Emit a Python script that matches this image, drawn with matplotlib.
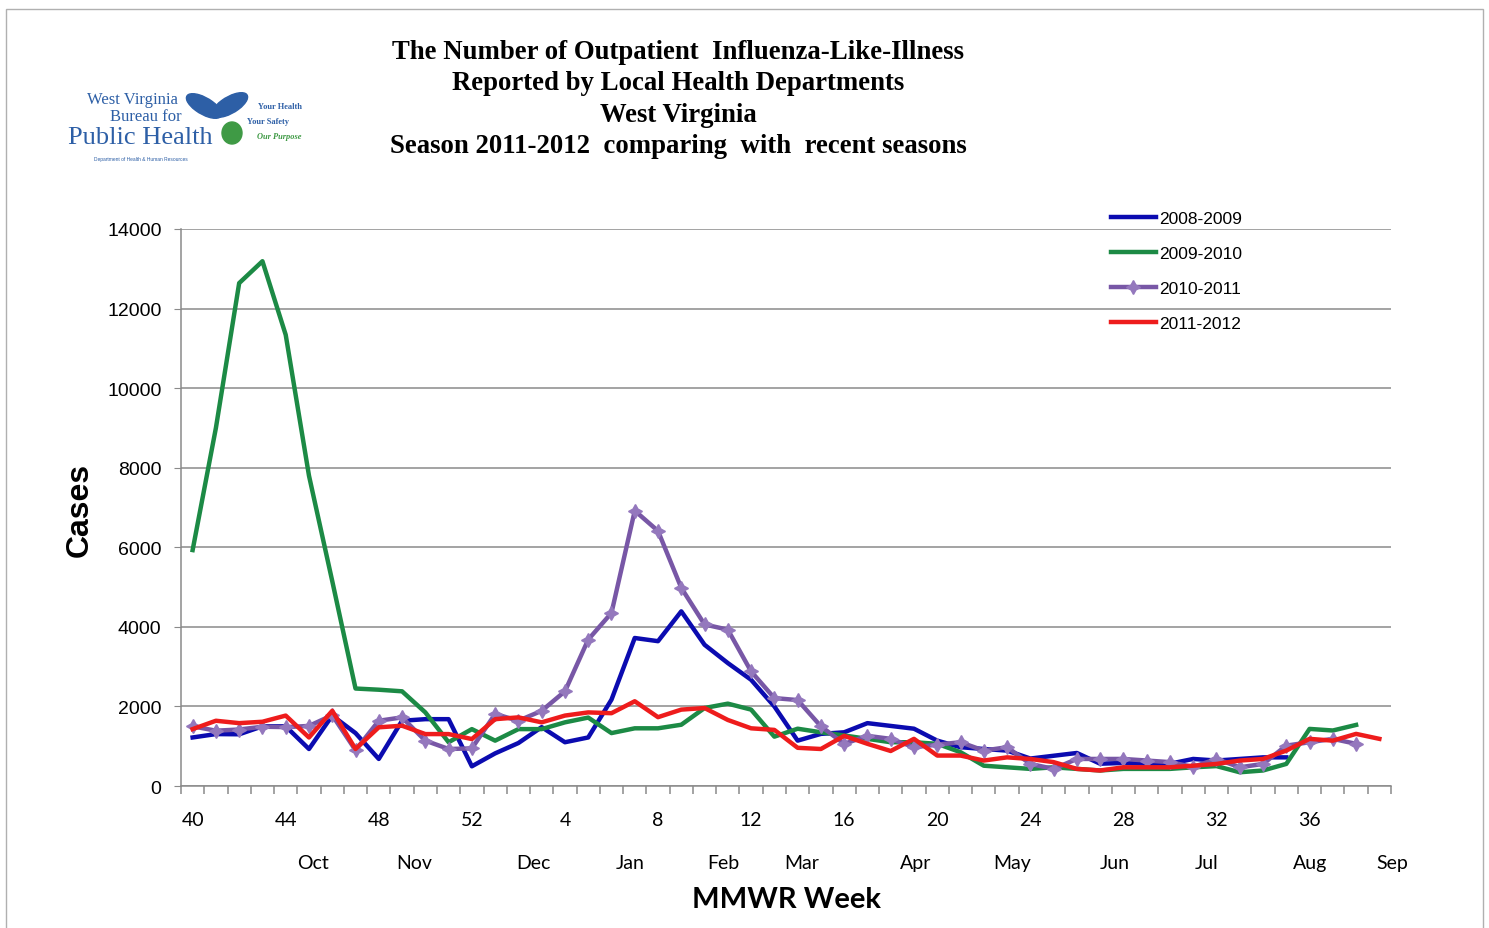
import matplotlib
matplotlib.use("Agg")
import matplotlib.pyplot as plt
from matplotlib.patches import Rectangle, Ellipse
import numpy as np

# MMWR weeks 40..52, 1..39 (52 categories)
weeks = list(range(40, 53)) + list(range(1, 40))
week_labels = [str(w) for w in weeks[::4]]

months = ["Oct", "Nov", "Dec", "Jan", "Feb", "Mar", "Apr", "May", "Jun", "Jul", "Aug", "Sep"]
month_pos = [5.17, 9.51, 14.63, 18.8, 22.83, 26.19, 31.09, 35.21, 39.64, 43.59, 48.02, 51.54]

s2008 = [1220, 1305, 1300, 1500, 1500, 930, 1770, 1330, 680, 1640, 1680, 1680,
         495, 820, 1080, 1480, 1100, 1220, 2170, 3720, 3640, 4390, 3550, 3090,
         2670, 2000, 1140, 1310, 1350, 1580, 1510, 1440, 1140, 975, 930, 890,
         690, 760, 830, 560, 580, 560, 560, 680, 640, 680, 720, 720]

s2009 = [5930, 9000, 12640, 13190, 11340, 7800, 5150, 2450, 2420, 2380, 1850, 1100,
         1430, 1140, 1430, 1430, 1600, 1720, 1330, 1450, 1450, 1540, 1960, 2070,
         1920, 1240, 1440, 1350, 1270, 1185, 1100, 1100, 1060, 850, 510, 470,
         430, 470, 430, 390, 430, 430, 430, 470, 500, 345, 390, 555, 1435, 1395, 1535]

s2010 = [1500, 1390, 1420, 1490, 1480, 1510, 1780, 900, 1640, 1725, 1140, 930,
         945, 1810, 1640, 1890, 2380, 3680, 4350, 6920, 6410, 4980, 4060, 3930,
         2880, 2210, 2160, 1500, 1060, 1260, 1185, 975, 1040, 1100, 890, 975,
         555, 430, 680, 680, 680, 640, 600, 480, 680, 470, 555, 1015, 1100, 1185, 1060]

s2011 = [1430, 1640, 1580, 1615, 1770, 1220, 1890, 930, 1475, 1515, 1305, 1305,
         1180, 1680, 1725, 1600, 1770, 1850, 1830, 2130, 1730, 1920, 1960, 1660,
         1450, 1410, 960, 930, 1260, 1060, 880, 1185, 765, 765, 640, 720,
         680, 600, 430, 390, 470, 470, 470, 510, 555, 640, 680, 890, 1185, 1140, 1310, 1185]

series = [("2008-2009", s2008, "#0b0bb0"),
          ("2009-2010", s2009, "#1c8a45"),
          ("2010-2011", s2010, "#7857a6"),
          ("2011-2012", s2011, "#ee1c1c")]

grid_col = "#8a8a8a"

fig = plt.figure(figsize=(14.89, 9.29), dpi=100)
ax = fig.add_axes([181/1489, 1-787/929, 1210/1489, 557/929])

for name, vals, col in series:
    x = np.arange(len(vals))
    if name == "2010-2011":
        ax.plot(x, vals, color=col, lw=3.2, marker=(4, 1, 0), ms=10,
                mfc="#9478bd", mec="#9478bd", label=name, zorder=3)
    else:
        ax.plot(x, vals, color=col, lw=3.2, label=name,
                zorder=4 if name == "2011-2012" else 3)

ax.set_xlim(-0.5, 51.5)
ax.set_ylim(0, 14000)
ax.set_yticks(np.arange(0, 14001, 2000))
ax.yaxis.grid(True, color=grid_col, lw=1.1)
ax.set_axisbelow(True)
for sp in ["top", "right"]:
    ax.spines[sp].set_visible(False)
for sp in ["left", "bottom"]:
    ax.spines[sp].set_color(grid_col)
    ax.spines[sp].set_linewidth(1.1)

ax.tick_params(axis="y", length=5, color=grid_col, pad=9,
               labelsize=14, labelfontfamily="Liberation Sans")
ax.set_xticks(np.arange(53) - 0.5, labels=[""] * 53)
ax.tick_params(axis="x", which="major", length=6, color=grid_col, width=1.1)
ax.set_xticks(np.arange(0, 52, 4), labels=week_labels, minor=True)
ax.tick_params(axis="x", which="minor", length=0, pad=18,
               labelsize=14, labelfontfamily="Lato")

for m, p in zip(months, month_pos):
    ax.text(p, -0.138, m, transform=ax.get_xaxis_transform(), ha="center",
            va="center", fontsize=14, family="Lato")

fig.text(787/1489, 1-900/929, "MMWR Week", ha="center", va="center",
         fontsize=21, fontweight="bold", family="Lato")
fig.text(80/1489, 1-510/929, "Cases", rotation=90, ha="center", va="center",
         fontsize=23, fontweight="bold", family="Liberation Sans")

title = ("The Number of Outpatient  Influenza-Like-Illness\n"
         "Reported by Local Health Departments\n"
         "West Virginia\n"
         "Season 2011-2012  comparing  with  recent seasons")
fig.text(678/1489, 1-99.5/929, title, ha="center", va="center", fontsize=19.3,
         fontweight="bold", family="Liberation Serif", linespacing=1.33)

leg = fig.legend(loc="upper left", bbox_to_anchor=(1102/1489, 1-203/929),
                 frameon=False, handlelength=2.6,
                 handletextpad=0.2, labelspacing=1.15, borderpad=0,
                 prop={"family": "Liberation Sans", "size": 12.5})

# logo
logo_blue = "#2d5fa6"
fig.text(132/1489, 1-100/929, "West Virginia", ha="center", va="center",
         fontsize=12, family="Liberation Serif", color=logo_blue)
fig.text(146/1489, 1-117/929, "Bureau for", ha="center", va="center",
         fontsize=12, family="Liberation Serif", color=logo_blue)
fig.text(140/1489, 1-138/929, "Public Health", ha="center", va="center",
         fontsize=19, family="Liberation Serif", color=logo_blue)
fig.text(141/1489, 1-160/929, "Department of Health & Human Resources",
         ha="center", va="center", fontsize=3.5, family="Liberation Sans",
         color=logo_blue)
for (cx, cy, w, h, ang, c) in [(204, 107, 22, 30, 40, "#2d5fa6"),
                                (230, 106, 22, 30, -40, "#2d5fa6"),
                                (232, 134, 20, 22, 0, "#3f9a45")]:
    fig.patches.append(Ellipse((cx/1489, 1-cy/929), w/1489, h/929, angle=ang,
                               color=c, transform=fig.transFigure))
fig.text(280/1489, 1-107/929, "Your Health", ha="center", va="center",
         fontsize=6, family="Liberation Serif", color=logo_blue, fontweight="bold")
fig.text(268/1489, 1-122/929, "Your Safety", ha="center", va="center",
         fontsize=6, family="Liberation Serif", color=logo_blue, fontweight="bold")
fig.text(279/1489, 1-137/929, "Our Purpose", ha="center", va="center",
         fontsize=6, family="Liberation Serif", color="#3f9a45",
         style="italic", fontweight="bold")

fig.patches.append(Rectangle((6/1489, -0.01), 1477/1489, 1-10/929 + 0.01,
                             fill=False, ec="#b0b0b0", lw=1,
                             transform=fig.transFigure))

fig.savefig("out.png", dpi=100)
